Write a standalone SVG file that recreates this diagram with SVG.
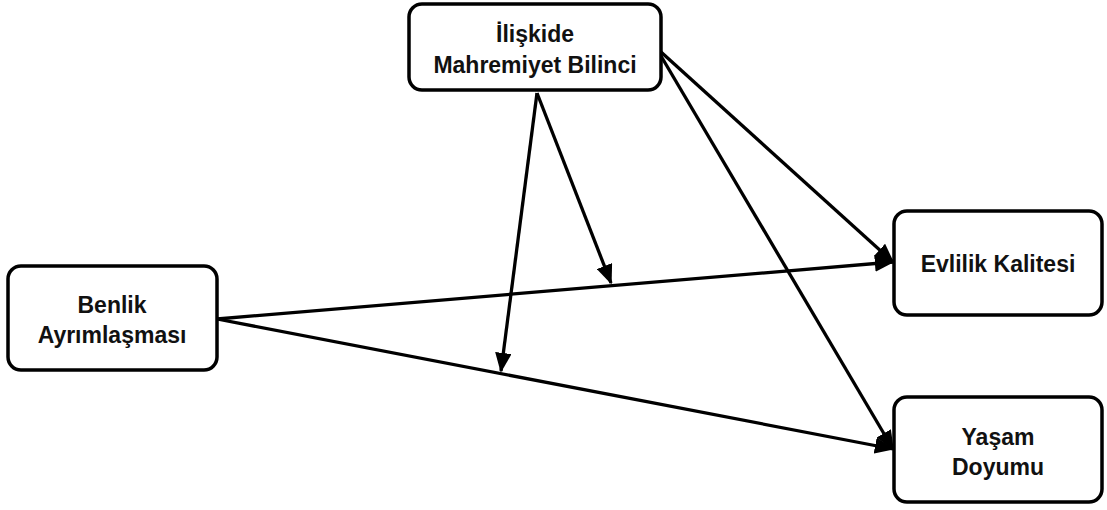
<svg xmlns="http://www.w3.org/2000/svg" width="1107" height="510" viewBox="0 0 1107 510">
<style>
.box{fill:#fff;stroke:#000;stroke-width:3.5}
.t{font-family:"Liberation Sans",Arial,sans-serif;font-weight:bold;font-size:23px;text-anchor:middle;fill:#111}
.c{stroke:#000;stroke-width:3.3;fill:none;marker-end:url(#ah)}
</style>
<defs>
<marker id="ah" markerWidth="6" markerHeight="5" refX="5.5" refY="2.5" orient="auto" markerUnits="strokeWidth">
<path d="M0,0 L6,2.5 L0,5 z" fill="#000"/>
</marker>
</defs>
<g id="connectors">
<line class="c" x1="217" y1="319" x2="893" y2="262"/>
<line class="c" x1="217" y1="319" x2="893" y2="449"/>
<line class="c" x1="537" y1="93" x2="501" y2="371"/>
<line class="c" x1="537" y1="93" x2="611" y2="283"/>
<line class="c" x1="661" y1="52" x2="893" y2="262"/>
<line class="c" x1="661" y1="56" x2="893" y2="449"/>
</g>
<g id="node-mahremiyet">
<rect class="box" x="409" y="4" width="252" height="86" rx="13"/>
<text class="t" x="535" y="42">İlişkide</text>
<text class="t" x="535" y="73">Mahremiyet Bilinci</text>
</g>
<g id="node-benlik">
<rect class="box" x="8" y="266" width="209" height="104" rx="13"/>
<text class="t" x="112" y="313">Benlik</text>
<text class="t" x="112" y="343">Ayrımlaşması</text>
</g>
<g id="node-evlilik">
<rect class="box" x="894" y="211" width="208" height="104" rx="13"/>
<text class="t" x="998" y="272">Evlilik Kalitesi</text>
</g>
<g id="node-yasam">
<rect class="box" x="894" y="397" width="208" height="105" rx="13"/>
<text class="t" x="998" y="445">Yaşam</text>
<text class="t" x="998" y="475">Doyumu</text>
</g>
</svg>
